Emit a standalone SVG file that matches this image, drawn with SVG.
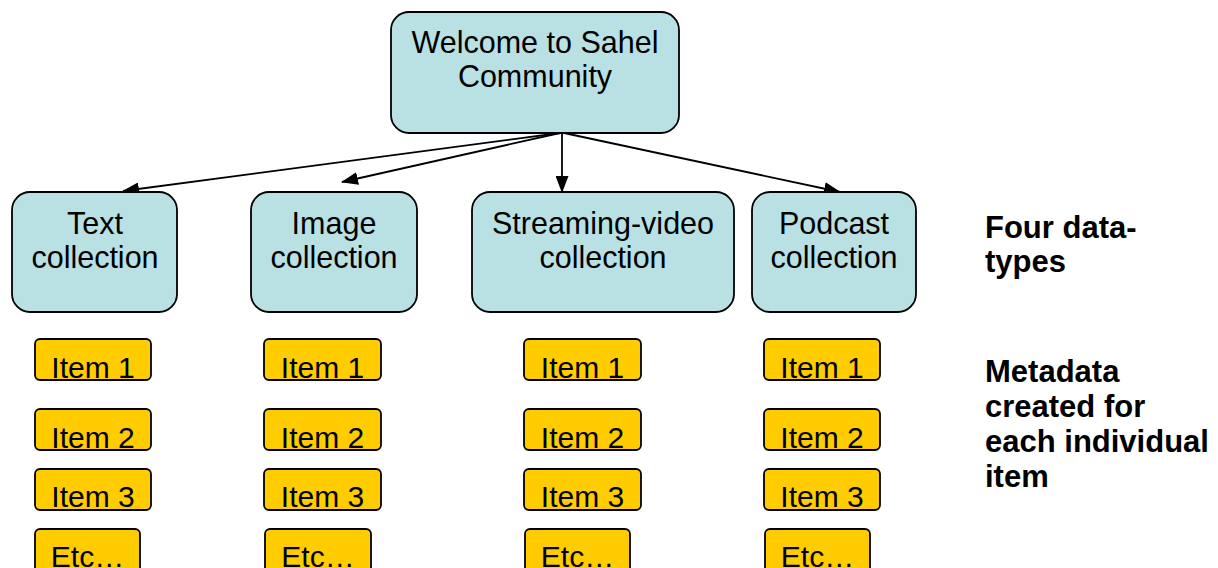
<svg xmlns="http://www.w3.org/2000/svg" width="1218" height="568" viewBox="0 0 1218 568">
<style>
.blue{fill:#B9E0E3;stroke:#000;stroke-width:1.8}
.item{fill:#FFCC00;stroke:#000;stroke-width:1.8}
.bt{font-family:"Liberation Sans",Arial,sans-serif;font-size:30.5px;fill:#000;text-anchor:middle}
.it{font-family:"Liberation Sans",Arial,sans-serif;font-size:30px;fill:#000;text-anchor:middle}
.lab{font-family:"Liberation Sans",Arial,sans-serif;font-size:31px;font-weight:bold;fill:#000}
.conn{stroke:#000;stroke-width:1.8;fill:none;marker-end:url(#ah)}
</style>
<defs>
<marker id="ah" markerWidth="17" markerHeight="13" refX="16" refY="6.5" orient="auto" markerUnits="userSpaceOnUse">
<path d="M0,0 L17,6.5 L0,13 Z" fill="#000"/>
</marker>
</defs>
<rect width="1218" height="568" fill="#fff"/>
<g id="connectors">
<line class="conn" x1="560" y1="133" x2="123" y2="191"/>
<line class="conn" x1="560" y1="133" x2="342" y2="182"/>
<line class="conn" x1="562" y1="133" x2="562" y2="192"/>
<line class="conn" x1="564" y1="133" x2="840" y2="192"/>
</g>
<g id="root">
<rect class="blue" x="391" y="12" width="288" height="121" rx="18"/>
<text class="bt" x="535" y="53">Welcome to Sahel</text>
<text class="bt" x="535" y="87">Community</text>
</g>
<g id="text-collection">
<rect class="blue" x="12" y="192" width="165" height="120" rx="18"/>
<text class="bt" x="95" y="234">Text</text>
<text class="bt" x="95" y="268">collection</text>
</g>
<g id="image-collection">
<rect class="blue" x="251" y="192" width="166" height="120" rx="18"/>
<text class="bt" x="334" y="234">Image</text>
<text class="bt" x="334" y="268">collection</text>
</g>
<g id="video-collection">
<rect class="blue" x="472" y="192" width="262" height="120" rx="18"/>
<text class="bt" x="603" y="234">Streaming-video</text>
<text class="bt" x="603" y="268">collection</text>
</g>
<g id="podcast-collection">
<rect class="blue" x="752" y="192" width="164" height="120" rx="18"/>
<text class="bt" x="834" y="234">Podcast</text>
<text class="bt" x="834" y="268">collection</text>
</g>
<g id="text-items">
<rect class="item" x="35" y="339" width="116" height="41" rx="5"/><text class="it" x="93" y="378">Item 1</text>
<rect class="item" x="35" y="409" width="116" height="41" rx="5"/><text class="it" x="93" y="448">Item 2</text>
<rect class="item" x="35" y="469" width="116" height="41" rx="5"/><text class="it" x="93" y="507">Item 3</text>
<rect class="item" x="35" y="529" width="105" height="45" rx="5"/><text class="it" x="87.5" y="567">Etc…</text>
</g>
<g id="image-items">
<rect class="item" x="264" y="339" width="117" height="41" rx="5"/><text class="it" x="322.5" y="378">Item 1</text>
<rect class="item" x="264" y="409" width="117" height="41" rx="5"/><text class="it" x="322.5" y="448">Item 2</text>
<rect class="item" x="264" y="469" width="117" height="41" rx="5"/><text class="it" x="322.5" y="507">Item 3</text>
<rect class="item" x="265" y="529" width="106" height="45" rx="5"/><text class="it" x="318" y="567">Etc…</text>
</g>
<g id="video-items">
<rect class="item" x="524" y="339" width="117" height="41" rx="5"/><text class="it" x="582.5" y="378">Item 1</text>
<rect class="item" x="524" y="409" width="117" height="41" rx="5"/><text class="it" x="582.5" y="448">Item 2</text>
<rect class="item" x="524" y="469" width="117" height="41" rx="5"/><text class="it" x="582.5" y="507">Item 3</text>
<rect class="item" x="525" y="529" width="105" height="45" rx="5"/><text class="it" x="577.5" y="567">Etc…</text>
</g>
<g id="podcast-items">
<rect class="item" x="764" y="339" width="116" height="41" rx="5"/><text class="it" x="822" y="378">Item 1</text>
<rect class="item" x="764" y="409" width="116" height="41" rx="5"/><text class="it" x="822" y="448">Item 2</text>
<rect class="item" x="764" y="469" width="116" height="41" rx="5"/><text class="it" x="822" y="507">Item 3</text>
<rect class="item" x="765" y="529" width="105" height="45" rx="5"/><text class="it" x="817.5" y="567">Etc…</text>
</g>
<g id="labels">
<text class="lab" x="985" y="238">Four data-</text>
<text class="lab" x="985" y="272">types</text>
<text class="lab" x="985" y="382">Metadata</text>
<text class="lab" x="985" y="417">created for</text>
<text class="lab" x="985" y="452">each individual</text>
<text class="lab" x="985" y="487">item</text>
</g>
</svg>
